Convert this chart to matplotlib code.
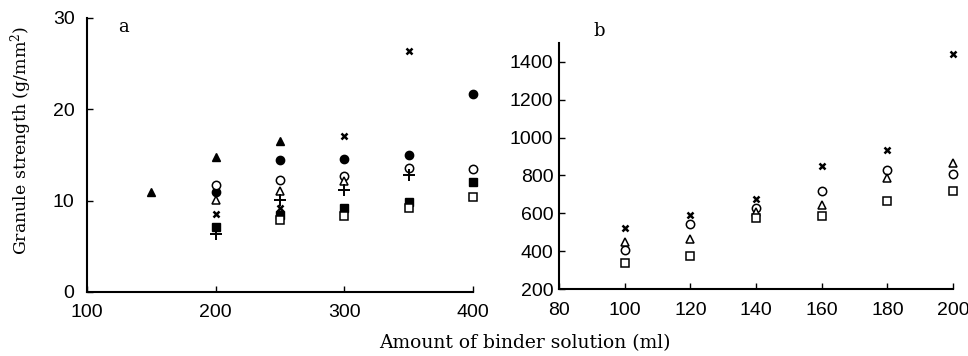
import numpy as np
import matplotlib.pyplot as plt

# panel a: amount of binder solution (ml) vs granule strength (g/mm2)
a_tri_f_x = [150, 200, 250]
a_tri_f_y = [10.9, 14.8, 16.5]
a_circ_f_x = [200, 250, 300, 350, 400]
a_circ_f_y = [11.0, 14.4, 14.6, 15.0, 21.7]
a_circ_o_x = [200, 250, 300, 350, 400]
a_circ_o_y = [11.7, 12.3, 12.7, 13.6, 13.5]
a_tri_o_x = [200, 250, 300]
a_tri_o_y = [10.1, 11.1, 12.1]
a_plus_x = [200, 250, 300, 350]
a_plus_y = [6.4, 10.1, 11.2, 12.8]
a_cross_x = [200, 250, 300, 350]
a_cross_y = [8.5, 9.2, 17.1, 26.4]
a_sq_f_x = [200, 250, 300, 350, 400]
a_sq_f_y = [7.1, 8.4, 9.2, 9.8, 12.0]
a_sq_o_x = [250, 300, 350, 400]
a_sq_o_y = [7.9, 8.3, 9.2, 10.4]

# panel b
b_x = [100, 120, 140, 160, 180, 200]
b_cross = [520, 591, 675, 852, 935, 1442]
b_circ = [405, 541, 626, 718, 829, 806]
b_tri = [449, 463, 608, 644, 788, 865]
b_sq = [335, 373, 573, 585, 666, 719]

plt.rcParams['mathtext.fontset'] = 'dejavuserif'

fig = plt.figure(figsize=(9.68, 3.56), dpi=100)
ax1 = fig.add_axes([0.0899, 0.1798, 0.3988, 0.7697])
ax2 = fig.add_axes([0.5775, 0.1882, 0.407, 0.691])

ms = 6
k = dict(color='black', linestyle='none', markersize=ms, clip_on=False)
o = dict(color='black', markerfacecolor='white', linestyle='none', markersize=ms,
         markeredgewidth=1.1, clip_on=False)
px = dict(marker='x', color='black', linestyle='none', markersize=5, markeredgewidth=1.8, clip_on=False)

ax1.plot(a_tri_f_x, a_tri_f_y, marker='^', **k)
ax1.plot(a_circ_f_x, a_circ_f_y, marker='o', **k)
ax1.plot(a_sq_f_x, a_sq_f_y, marker='s', **k)
ax1.plot(a_circ_o_x, a_circ_o_y, marker='o', **o)
ax1.plot(a_tri_o_x, a_tri_o_y, marker='^', **o)
ax1.plot(a_sq_o_x, a_sq_o_y, marker='s', **o)
ax1.plot(a_plus_x, a_plus_y, marker='+', color='black', linestyle='none', markersize=8,
         markeredgewidth=1.4, clip_on=False)
ax1.plot(a_cross_x, a_cross_y, **px)

ax2.plot(b_x, b_cross, **px)
ax2.plot(b_x, b_circ, marker='o', **o)
ax2.plot(b_x, b_tri, marker='^', **o)
ax2.plot(b_x, b_sq, marker='s', **o)

ax1.set_xlim(100, 400)
ax1.set_ylim(0, 30)
ax1.set_xticks([100, 200, 300, 400])
ax1.set_yticks([0, 10, 20, 30])
ax2.set_xlim(80, 200)
ax2.set_ylim(200, 1500)
ax2.set_xticks(np.arange(80, 201, 20))
ax2.set_yticks(np.arange(200, 1401, 200))

for ax in (ax1, ax2):
    ax.spines['top'].set_visible(False)
    ax.spines['right'].set_visible(False)
    ax.spines['left'].set_linewidth(1.5)
    ax.spines['bottom'].set_linewidth(1.5)
    ax.tick_params(direction='in', length=4, width=1, labelsize=14)
    ax.tick_params(axis='x', pad=9)
    for lab in ax.get_xticklabels() + ax.get_yticklabels():
        lab.set_fontfamily('Liberation Sans')
ax1.tick_params(axis='y', pad=9)
ax2.tick_params(axis='y', pad=4)

fig.text(0.122, 0.91, 'a', family='DejaVu Serif', fontsize=13)
fig.text(0.613, 0.9, 'b', family='DejaVu Serif', fontsize=13)
fig.text(0.022, 0.607, 'Granule strength (g/mm$^2$)', family='DejaVu Serif',
         fontsize=12.5, rotation=90, va='center', ha='center')
fig.text(0.542, 0.037, 'Amount of binder solution (ml)', family='DejaVu Serif',
         fontsize=13.5, ha='center', va='center')

fig.savefig('out.png', dpi=100)
